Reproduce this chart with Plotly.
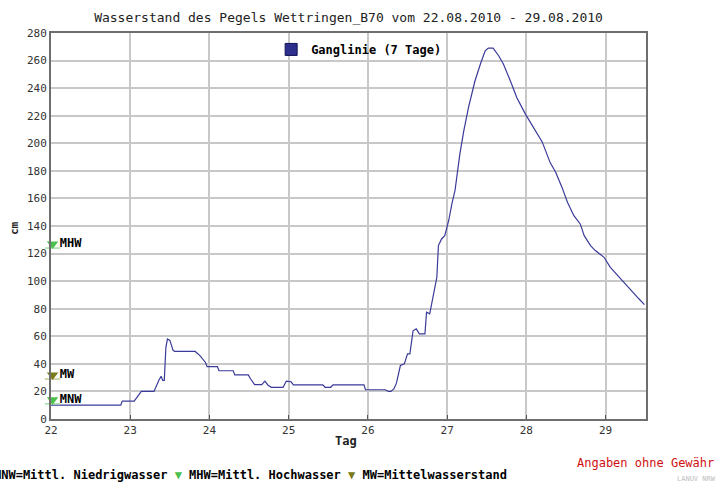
import plotly.graph_objects as go

# Ganglinie (7 Tage): day (fractional) and water level in cm
days = [22.00, 22.88, 22.90, 23.05, 23.14, 23.30, 23.36, 23.39, 23.41, 23.43, 23.45, 23.47,
        23.50, 23.54, 23.56, 23.82, 23.88, 23.95, 23.97, 24.10, 24.12, 24.30, 24.32, 24.49,
        24.52, 24.57, 24.66, 24.70, 24.74, 24.78, 24.93, 24.97, 25.03, 25.06, 25.43, 25.46,
        25.53, 25.56, 25.95, 25.97, 26.22, 26.26, 26.29, 26.33, 26.36, 26.41, 26.46, 26.50,
        26.53, 26.57, 26.61, 26.65, 26.72, 26.74, 26.78, 26.83, 26.87, 26.89, 26.93, 26.97,
        27.02, 27.06, 27.10, 27.16, 27.21, 27.27, 27.35, 27.42, 27.48, 27.52, 27.58, 27.65,
        27.71, 27.80, 27.88, 27.99, 28.09, 28.20, 28.30, 28.37, 28.45, 28.52, 28.60, 28.68,
        28.73, 28.81, 28.87, 28.98, 29.06, 29.19, 29.32, 29.42, 29.49]
levels = [10, 10, 13, 13, 20, 20, 28, 31, 28, 28, 52, 58,
          57, 50, 49, 49, 46, 41, 38, 38, 35, 35, 32, 32,
          29, 25, 25, 27.5, 24.5, 23, 23, 27.5, 27, 24.8, 24.8, 23,
          23, 24.8, 24.8, 21.2, 21.2, 20, 20, 22, 26, 38.8, 40, 47.3,
          47.3, 64, 65.4, 61.8, 61.8, 77.5, 76.3, 90.8, 102.8, 125.8, 130.6, 133,
          144, 156, 166, 192, 209, 226, 245, 257.5, 267, 269, 269, 263.5,
          257.5, 245, 233, 221, 211.5, 201, 186, 179, 168, 157, 147.5, 141.5,
          133, 125.8, 122.2, 117.3, 110, 101.7, 93, 87.2, 83]

# Reference water levels (cm)
ref_names = ["MHW", "MW", "MNW"]
ref_levels = [124, 29, 11]
ref_colors = ["#4cc04c", "#7a7a1a", "#4cc04c"]
ref_under = ["#a8e0a8", "#c8c890", "#a8e0a8"]

x_ticks = [22, 23, 24, 25, 26, 27, 28, 29]
y_ticks = list(range(0, 281, 20))

title = "Wasserstand des Pegels Wettringen_B70 vom 22.08.2010 - 29.08.2010"
MONO = "DejaVu Sans Mono"
LINE = "#3a3a9a"

fig = go.Figure()
fig.add_trace(go.Scatter(x=days, y=levels, mode="lines",
                         line=dict(color=LINE, width=1.2), showlegend=False,
                         name="Ganglinie (7 Tage)"))
fig.add_trace(go.Scatter(x=[None], y=[None], mode="markers", name="<b>Ganglinie (7 Tage)</b>",
                         marker=dict(symbol="square", size=12, color="#2e2e8c",
                                     line=dict(color="#111155", width=1))))

# underline bars for reference markers
fig.add_trace(go.Scatter(x=[22.02] * 3, y=ref_levels, mode="markers", showlegend=False,
                         cliponaxis=False, hoverinfo="skip",
                         marker=dict(symbol="line-ew", size=11,
                                     line=dict(color=ref_under, width=1.5))))
fig.add_trace(go.Scatter(x=[22.02] * 3, y=[v + 3 for v in ref_levels], mode="markers+text",
                         showlegend=False, cliponaxis=False,
                         text=["<b>" + n + "</b>" for n in ref_names],
                         textposition="middle right",
                         textfont=dict(family=MONO, size=12, color="#000"),
                         marker=dict(symbol="triangle-down", size=10, color=ref_colors)))

fig.update_layout(
    width=723, height=484,
    margin=dict(l=51, r=77, t=33, b=65),
    paper_bgcolor="white", plot_bgcolor="white",
    title=dict(text=title, x=0.5, xref="paper", xanchor="center", y=1 - 17 / 484,
               yanchor="middle", font=dict(family=MONO, size=13, color="#222")),
    font=dict(family=MONO, size=11, color="#222"),
    showlegend=True,
    legend=dict(x=0.37, y=0.995, xanchor="left", yanchor="top", bgcolor="rgba(0,0,0,0)",
                font=dict(family=MONO, size=12, color="#000"), itemwidth=30,
                tracegroupgap=0),
    xaxis=dict(range=[22, 29.51], tickvals=x_ticks, ticktext=[str(t) for t in x_ticks],
               showgrid=True, gridcolor="#c8c8c8", gridwidth=1.5,
               showline=True, mirror=True, linecolor="#6e6e6e", linewidth=2,
               ticks="inside", ticklen=4, tickcolor="#555", zeroline=False,
               tickfont=dict(family=MONO, size=11, color="#333")),
    yaxis=dict(range=[0, 280], tickvals=y_ticks, showgrid=True, gridcolor="#c8c8c8",
               gridwidth=1.5, showline=True, mirror=True, linecolor="#6e6e6e", linewidth=2,
               ticks="", zeroline=False,
               tickfont=dict(family=MONO, size=11, color="#333")),
)

annos = [
    dict(text="<b>cm</b>", x=14, y=228, textangle=-90, font=dict(size=11)),
    dict(text="<b>Tag</b>", x=346, y=441, font=dict(size=12)),
    dict(text="Angaben ohne Gewähr", x=716, y=463, xanchor="right",
         font=dict(size=12, color="#d01010")),
    dict(text="LANUV NRW", x=718, y=479, xanchor="right", font=dict(size=7, color="#c0c0c0")),
    dict(text=("<b>MNW=Mittl. Niedrigwasser </b><span style='color:#4cc04c'>▼</span>"
               "<b> MHW=Mittl. Hochwasser </b><span style='color:#7a7a1a'>▼</span>"
               "<b> MW=Mittelwasserstand</b>"),
         x=-8, y=475, xanchor="left", font=dict(size=12, color="#000")),
]
for a in annos:
    xp = (a.pop("x") - 51) / 595
    yp = (419 - a.pop("y")) / 386
    fig.add_annotation(xref="paper", yref="paper", x=xp, y=yp, showarrow=False,
                       xanchor=a.pop("xanchor", "center"), yanchor="middle",
                       font=dict(family=MONO, **a.pop("font")), **a)

fig.write_html("out.html", config={"displayModeBar": False},
               post_script="document.body.style.margin='0';")
